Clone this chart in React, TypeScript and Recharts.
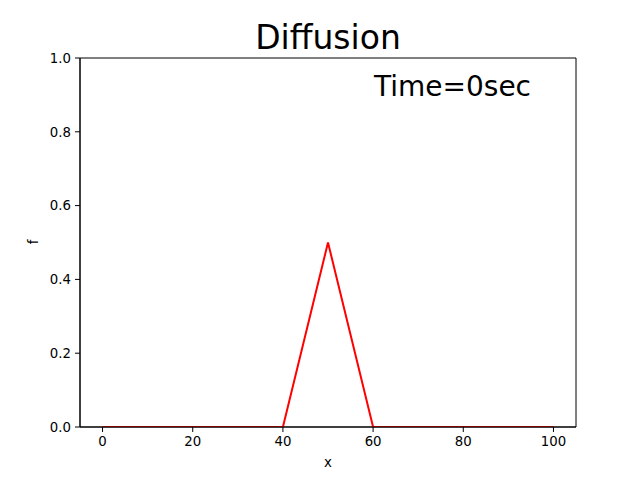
import { LineChart, Line, XAxis, YAxis, ReferenceArea } from 'recharts';

// x grid and f(x) at time 0
const xValues = [0, 10, 20, 30, 40, 50, 60, 70, 80, 90, 100];
const fValues = [0, 0, 0, 0, 0, 0.5, 0, 0, 0, 0, 0];
const xTicks = [0, 20, 40, 60, 80, 100];
const yTicks = [0, 0.2, 0.4, 0.6, 0.8, 1.0];

const data = xValues.map((x, i) => ({ x, f: fValues[i] }));

const font = 'DejaVu Sans';
const tickStyle = { fontSize: 13.3, fill: '#000', fontFamily: font };

const App = () => {
  return (
    <div style={{ position: 'absolute', left: 0, top: 0, width: 640, height: 480, background: '#fff' }}>
      <LineChart
        width={640}
        height={480}
        data={data}
        margin={{ top: 58, right: 64, bottom: 23, left: 30 }}
      >
        <XAxis
          dataKey="x"
          type="number"
          domain={[-5, 105]}
          ticks={xTicks}
          tick={tickStyle}
          tickSize={5}
          tickMargin={5}
          height={30}
          stroke="#000"
          allowDataOverflow
        />
        <YAxis
          type="number"
          domain={[0, 1]}
          ticks={yTicks}
          tick={tickStyle}
          tickFormatter={(v: number) => v.toFixed(1)}
          tickSize={5}
          tickMargin={4}
          width={50}
          stroke="#000"
          allowDataOverflow
        />
        <ReferenceArea x1={-5} x2={105} y1={0} y2={1} fill="none" stroke="#000" strokeWidth={1} ifOverflow="visible" />
        <Line
          dataKey="f"
          stroke="#ff0000"
          strokeWidth={2}
          dot={false}
          isAnimationActive={false}
        />
      </LineChart>
      <svg width={640} height={480} style={{ position: 'absolute', left: 0, top: 0, pointerEvents: 'none' }}>
        <text x={328} y={49} textAnchor="middle" fontSize={33} fontFamily={font} fill="#000">Diffusion</text>
        <text x={374} y={96} fontSize={28} fontFamily={font} fill="#000">Time=0sec</text>
        <text x={328} y={467} textAnchor="middle" fontSize={13.3} fontFamily={font} fill="#000">x</text>
        <text x={38} y={242} textAnchor="middle" fontSize={13.3} fontFamily={font} fill="#000" transform="rotate(-90 38 242)">f</text>
      </svg>
    </div>
  );
};

export default App;
